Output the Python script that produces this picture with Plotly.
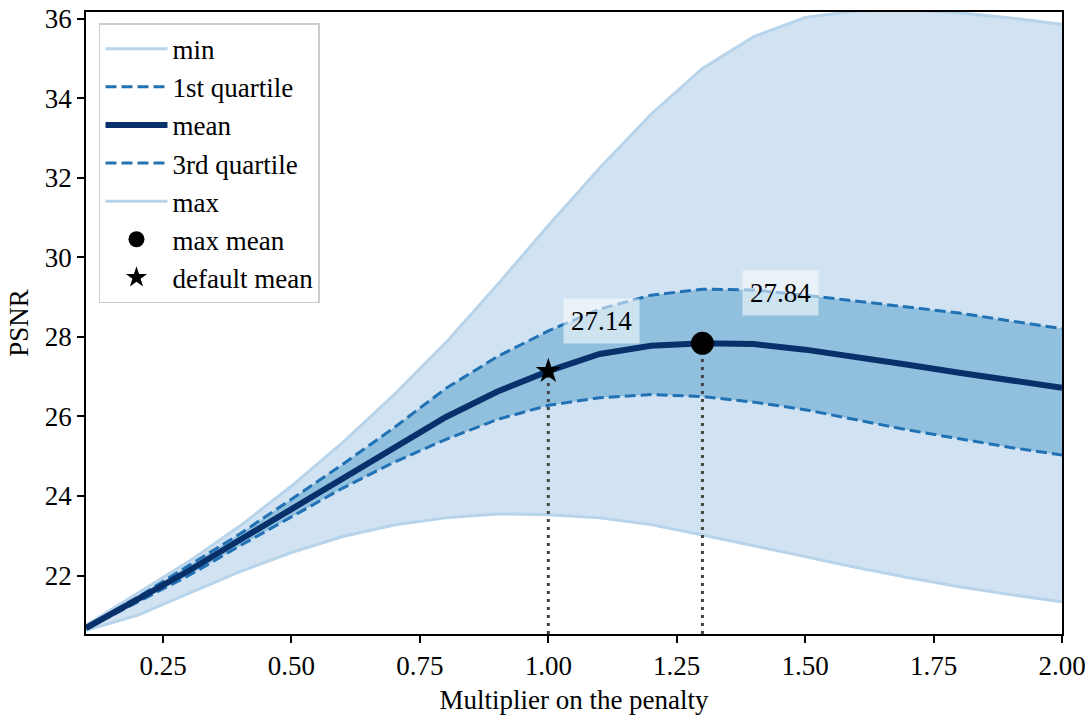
import plotly.graph_objects as go

# Multiplier values on the penalty
multiplier = [0.1, 0.2, 0.3, 0.4, 0.5, 0.6, 0.7, 0.8, 0.9, 1.0,
              1.1, 1.2, 1.3, 1.4, 1.5, 1.6, 1.7, 1.8, 1.9, 2.0]

# PSNR statistics per multiplier
psnr_min = [20.62, 21.00, 21.55, 22.10, 22.58, 22.98, 23.27, 23.45, 23.55, 23.53,
            23.45, 23.28, 23.02, 22.75, 22.48, 22.20, 21.95, 21.72, 21.52, 21.34]
psnr_q1 = [20.66, 21.32, 22.00, 22.75, 23.48, 24.20, 24.85, 25.42, 25.92, 26.28,
           26.47, 26.55, 26.50, 26.36, 26.17, 25.92, 25.66, 25.44, 25.22, 25.03]
psnr_mean = [20.68, 21.38, 22.12, 22.90, 23.68, 24.45, 25.22, 25.98, 26.62, 27.14,
             27.57, 27.78, 27.84, 27.82, 27.68, 27.50, 27.30, 27.10, 26.91, 26.72]
psnr_q3 = [20.70, 21.45, 22.25, 23.05, 23.92, 24.80, 25.72, 26.70, 27.50, 28.15,
           28.70, 29.05, 29.20, 29.18, 29.05, 28.90, 28.75, 28.60, 28.40, 28.21]
psnr_max = [20.75, 21.55, 22.35, 23.25, 24.25, 25.35, 26.55, 27.85, 29.30, 30.80,
            32.25, 33.60, 34.75, 35.55, 36.03, 36.20, 36.22, 36.15, 36.02, 35.86]

default_multiplier = 1.0
x_ticks = [0.25, 0.50, 0.75, 1.00, 1.25, 1.50, 1.75, 2.00]
x_tick_labels = ["0.25", "0.50", "0.75", "1.00", "1.25", "1.50", "1.75", "2.00"]
y_ticks = [22, 24, 26, 28, 30, 32, 34, 36]

X_RANGE = [0.1, 2.0]
Y_RANGE = [20.53, 36.17]

EDGE = "#b8d4eb"
OUTER_FILL = "rgba(198, 219, 239, 0.8)"
INNER_FILL = "#90c0de"
QUART = "#2171b5"
MEAN = "#08306b"
FONT = "Liberation Serif"
FS = 27

i_best = max(range(len(psnr_mean)), key=lambda i: psnr_mean[i])
best_x, best_y = multiplier[i_best], psnr_mean[i_best]
i_def = multiplier.index(default_multiplier)
def_x, def_y = multiplier[i_def], psnr_mean[i_def]

fig = go.Figure()


def band(lower, upper, color):
    """Shaded region between two curves, kept out of the legend."""
    fig.add_trace(go.Scatter(x=multiplier, y=lower, mode="lines",
                             line=dict(width=0), showlegend=False, hoverinfo="skip"))
    fig.add_trace(go.Scatter(x=multiplier, y=upper, mode="lines",
                             line=dict(width=0), fill="tonexty", fillcolor=color,
                             showlegend=False, hoverinfo="skip"))


band(psnr_min, psnr_max, OUTER_FILL)
band(psnr_q1, psnr_q3, INNER_FILL)

curves = [
    ("min", psnr_min, dict(color=EDGE, width=3), 1),
    ("max", psnr_max, dict(color=EDGE, width=3), 5),
    ("1st quartile", psnr_q1, dict(color=QUART, width=3, dash="11px,5px"), 2),
    ("3rd quartile", psnr_q3, dict(color=QUART, width=3, dash="11px,5px"), 4),
    ("mean", psnr_mean, dict(color=MEAN, width=6), 3),
]
for name, ys, line, rank in curves:
    fig.add_trace(go.Scatter(x=multiplier, y=ys, mode="lines", name=name,
                             line=line, legendrank=rank, legendgroup=name))

# dotted drop lines from the axis to the highlighted means
for xv, yv in [(def_x, def_y), (best_x, best_y)]:
    fig.add_trace(go.Scatter(x=[xv, xv], y=[Y_RANGE[0], yv], mode="lines",
                             line=dict(color="#444444", width=3, dash="3px,5px"),
                             showlegend=False, hoverinfo="skip"))

fig.add_trace(go.Scatter(x=[best_x], y=[best_y], mode="markers", name="max mean",
                         marker=dict(symbol="circle", size=23, color="black"),
                         legendrank=6, legendgroup="max mean"))
fig.add_trace(go.Scatter(x=[def_x], y=[def_y], mode="markers", name="default mean",
                         marker=dict(symbol="star", size=19, color="black"),
                         legendrank=7, legendgroup="default mean"))

for xv, yv, dx in [(def_x, def_y, 53), (best_x, best_y, 78)]:
    fig.add_annotation(x=xv, y=yv, xref="x", yref="y", text=f"{yv:.2f}",
                       showarrow=False, xshift=dx, yshift=50,
                       font=dict(family=FONT, size=FS, color="black"),
                       bgcolor="rgba(255,255,255,0.55)", borderpad=7)

axis_common = dict(showline=True, linecolor="black", linewidth=1.5, mirror=True,
                   ticks="outside", ticklen=7, tickwidth=1.5, tickcolor="black",
                   showgrid=False, zeroline=False, automargin=False,
                   tickfont=dict(family=FONT, size=FS, color="black"))

fig.update_layout(
    width=1090, height=717,
    margin=dict(l=86, r=28, t=12, b=83),
    plot_bgcolor="white", paper_bgcolor="white",
    font=dict(family=FONT, size=FS, color="black"),
    xaxis=dict(range=X_RANGE, tickvals=x_ticks, ticktext=x_tick_labels,
               title=dict(text="Multiplier on the penalty", standoff=10,
                          font=dict(family=FONT, size=FS)),
               **axis_common),
    yaxis=dict(range=Y_RANGE, tickvals=y_ticks,
               title=dict(text="PSNR", standoff=8, font=dict(family=FONT, size=FS)),
               **axis_common),
    legend=dict(x=0.0133, y=0.982, xanchor="left", yanchor="top",
                bgcolor="rgba(255,255,255,0.8)", bordercolor="#cccccc", borderwidth=1.5,
                font=dict(family=FONT, size=FS), itemwidth=62, tracegroupgap=1,
                traceorder="normal"),
    showlegend=True,
)

fig.write_html("out.html")
